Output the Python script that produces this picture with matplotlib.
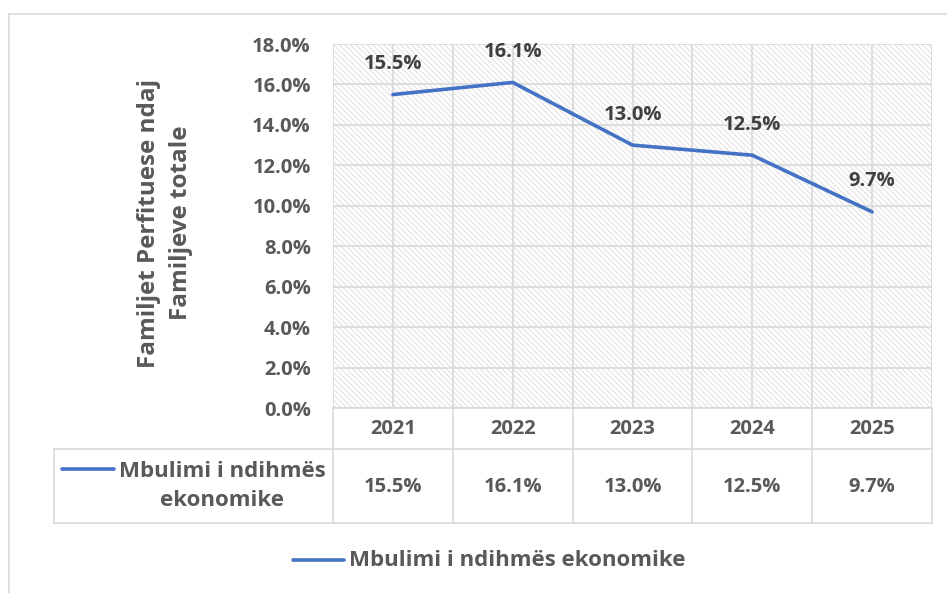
import matplotlib
matplotlib.use("Agg")
import matplotlib.pyplot as plt
from matplotlib.patches import Rectangle
from matplotlib.lines import Line2D
from matplotlib.transforms import blended_transform_factory
import numpy as np

years = ["2021", "2022", "2023", "2024", "2025"]
values = [15.5, 16.1, 13.0, 12.5, 9.7]
series_name = "Mbulimi i ndihmës ekonomike"
ylabel = "Familjet Perfituese ndaj\nFamiljeve totale"

plt.rcParams['font.family'] = ['Open Sans', 'DejaVu Sans']
plt.rcParams['hatch.linewidth'] = 0.8

W, H = 947, 593
TXT = '#595959'
GRID = '#D9D9D9'
BLUE = '#4472C4'
FS_NUM = 14.5
FS_TXT = 16
FS_LBL = 17.5

fig = plt.figure(figsize=(W / 100, H / 100), dpi=100)
fig.patch.set_facecolor('white')

def fy(py):
    return 1 - py / H

def fx(px):
    return px / W

ax = fig.add_axes([fx(333), fy(408), (932 - 333) / W, (408 - 44) / H])
ax.set_facecolor('white')
hatch = Rectangle((0, 0), 1, 1, transform=ax.transAxes, facecolor='white',
                  edgecolor='#E2E2E2', hatch='\\\\\\\\\\\\', linewidth=0, zorder=0)
ax.add_patch(hatch)

x = np.arange(len(years))
ax.plot(x, values, color=BLUE, lw=2.6, solid_capstyle='round', zorder=3)
for xi, v in zip(x, values):
    ax.annotate(f"{v:.1f}%", (xi, v), xytext=(0, 22), textcoords='offset points',
                ha='center', va='center', fontsize=FS_NUM, fontweight='bold', color='#404040')

ax.set_xlim(-0.5, len(years) - 0.5)
ax.set_ylim(0, 18)
ax.set_yticks(np.arange(0, 18.1, 2))
ax.set_yticklabels([f"{t:.1f}%" for t in np.arange(0, 18.1, 2)])
ax.set_xticks(np.arange(-0.5, len(years), 0.5))
ax.set_xticklabels([])
ax.tick_params(axis='both', length=0)
ax.tick_params(axis='y', pad=16, labelsize=FS_NUM, labelcolor=TXT)
for lab in ax.get_yticklabels():
    lab.set_fontweight('bold')
ax.grid(True, color=GRID, lw=1.2, zorder=1)
ax.set_axisbelow(True)
for s in ['top', 'right', 'left']:
    ax.spines[s].set_visible(False)
ax.spines['bottom'].set_color(GRID)
ax.spines['bottom'].set_linewidth(1.2)

# Y label
fig.text(fx(165), fy(223), ylabel, rotation=90, ha='center', va='center',
         multialignment='center', fontsize=FS_LBL, fontweight='bold', color=TXT,
         linespacing=1.45)

# Data table
tr = blended_transform_factory(ax.transData, fig.transFigure)
lw = 1.2
edges = np.arange(-0.5, len(years), 1.0)
for e in edges:
    fig.add_artist(Line2D([e, e], [fy(408), fy(523)], transform=tr, color=GRID, lw=lw))
fig.add_artist(Line2D([fx(54), fx(932)], [fy(449), fy(449)], transform=fig.transFigure, color=GRID, lw=lw))
fig.add_artist(Line2D([fx(54), fx(932)], [fy(523), fy(523)], transform=fig.transFigure, color=GRID, lw=lw))
fig.add_artist(Line2D([fx(54), fx(54)], [fy(449), fy(523)], transform=fig.transFigure, color=GRID, lw=lw))
for xi, yr, v in zip(x, years, values):
    fig.text(xi, fy(429), yr, transform=tr, ha='center', va='center',
             fontsize=FS_NUM, fontweight='bold', color=TXT)
    fig.text(xi, fy(487), f"{v:.1f}%", transform=tr, ha='center', va='center',
             fontsize=FS_NUM, fontweight='bold', color=TXT)

# legend key in table
fig.add_artist(Line2D([fx(62), fx(114)], [fy(469), fy(469)], transform=fig.transFigure,
                      color=BLUE, lw=2.6, solid_capstyle='round'))
fig.text(fx(222), fy(486), "Mbulimi i ndihmës\nekonomike", ha='center', va='center',
         multialignment='center', fontsize=FS_TXT, fontweight='bold', color=TXT, linespacing=1.5)

# bottom legend
fig.add_artist(Line2D([fx(293), fx(344)], [fy(560), fy(560)], transform=fig.transFigure,
                      color=BLUE, lw=2.6, solid_capstyle='round'))
fig.text(fx(349), fy(560), series_name, ha='left', va='center',
         fontsize=FS_TXT, fontweight='bold', color=TXT)

# outer chart frame (partially visible)
fig.add_artist(Line2D([fx(9), fx(9)], [fy(14), 0], transform=fig.transFigure, color=GRID, lw=1.2))
fig.add_artist(Line2D([fx(9), 1], [fy(14), fy(14)], transform=fig.transFigure, color=GRID, lw=1.2))

fig.savefig("out.png", dpi=100)
